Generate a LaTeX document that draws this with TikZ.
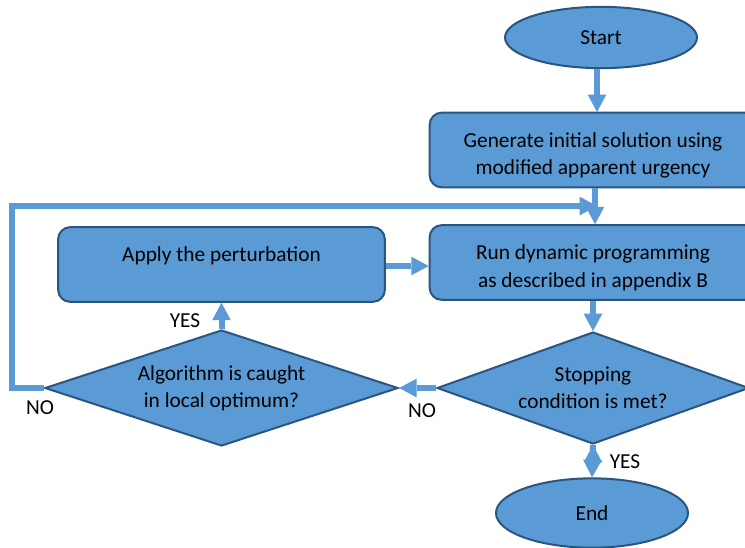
\documentclass[tikz,border=0pt]{standalone}
\usepackage{fontspec}
\setmainfont{Carlito}
\usepackage{xcolor}
\usetikzlibrary{arrows.meta,shapes.geometric,positioning}
\definecolor{boxfill}{HTML}{5B9BD5}
\definecolor{boxline}{HTML}{2A5580}
\definecolor{flowline}{HTML}{5B9BD5}
\tikzset{
  stepbox/.style={draw=boxline, fill=boxfill, line width=1.5pt, rounded corners=9pt,
    minimum width=245pt, minimum height=56pt, align=center},
  term/.style={ellipse, draw=boxline, fill=boxfill, line width=1.5pt,
    minimum width=144pt, minimum height=46pt},
  test/.style={diamond, draw=boxline, fill=boxfill, line width=1.5pt, aspect=3,
    inner sep=0pt, align=center},
  flow/.style={draw, color=flowline, line width=4.5pt,
    -{Triangle[width=14pt,length=13pt,line width=0pt]}},
}

\begin{document}
\begin{tikzpicture}[x=0.75pt,y=-0.75pt,font=\fontsize{16}{20.5}\selectfont]
\clip (0,0) rectangle (745,547);
\node[term] (start) at (601,37.5) {Start};
\node[stepbox, text height=37pt, text depth=0pt] (gen) at (593,150) {Generate initial solution using\\modified apparent urgency};
\node[stepbox, text height=37pt, text depth=0pt] (run) at (593,262.5) {Run dynamic programming\\as described in appendix B};
\node[stepbox, text depth=15.5pt] (apply) at (221.5,264.5) {Apply the perturbation};
\node[test, minimum width=234pt, minimum height=84pt] (stop) at (593,388) {Stopping\\condition is met?};
\node[test, minimum width=265pt, minimum height=87pt] (caught) at (221.5,388) {Algorithm is caught\\in local optimum?};
\node[term, minimum height=52pt] (end) at (592,513) {End};
\coordinate (merge) at (597,206);
% labels on the branches
\node (yes1) at (185,321) {YES};
\node (no1) at (40,408) {NO};
\node (no2) at (422,411) {NO};
\node (yes2) at (625,462) {YES};
\path[flow]
(start.south -| 597,0) edge (597,112)
(gen.south -| 595,0) edge (run.north -| 595,0)
(apply.east |- 0,266) edge (run.west |- 0,266)
(run) edge (stop)
(stop.west) edge (caught.east)
(caught.north) edge (apply.south)
(stop.south) edge (end.north);
\draw[flow] (caught.west) -- ++(-32,0) |- (merge);
\end{tikzpicture}
\end{document}
